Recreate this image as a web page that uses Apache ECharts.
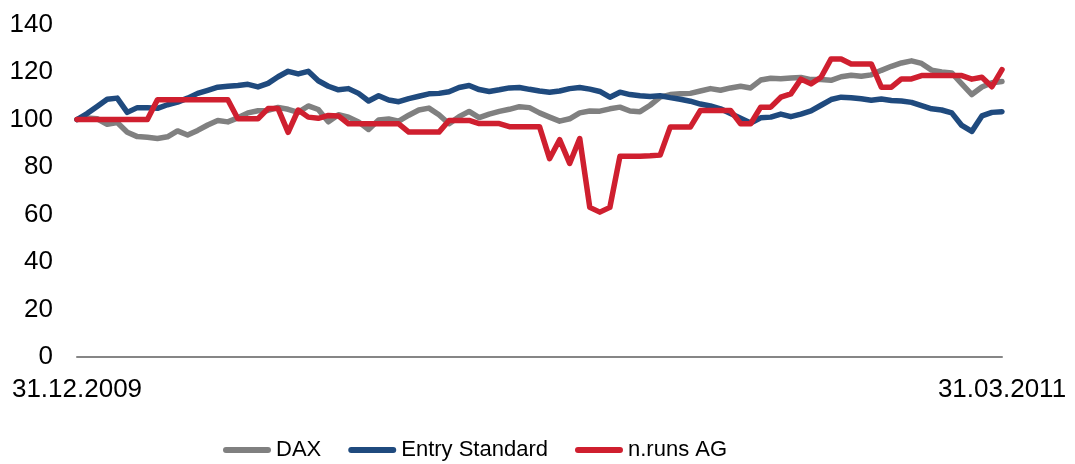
<!DOCTYPE html>
<html>
<head>
<meta charset="utf-8">
<script src="https://cdn.jsdelivr.net/npm/echarts@6/dist/echarts.min.js"></script>
<style>
  html, body { margin: 0; padding: 0; background: #ffffff; }
  #chart { width: 1075px; height: 464px; }
</style>
</head>
<body>
<div id="chart"></div>
<script>
// Tick labels on the x axis (first and last day of the period)
const xTickLabels = ['31.12.2009', '31.03.2011'];
const yTicks = [0, 20, 40, 60, 80, 100, 120, 140];

const seriesNames = ['DAX', 'Entry Standard', 'n.runs AG'];

// Values, roughly every 5 days
const dax = [
  100, 100.6, 100.3, 98, 98.7, 94.6, 92.8, 92.5, 92, 92.7,
  95.2, 93.5, 95.4, 97.7, 99.6, 99, 100.7, 102.8, 103.7, 103.8,
  105.1, 104.3, 103, 105.7, 104.2, 99, 102, 101, 99, 95.8,
  99.8, 100.2, 99.3, 101.8, 104, 104.8, 102, 98.2, 101.2, 103.4,
  100.8, 102.3, 103.4, 104.3, 105.4, 105, 102.8, 101, 99.3, 100.3,
  102.8, 103.6, 103.5, 104.5, 105.2, 103.6, 103.3, 106, 109.4, 110.5,
  110.8, 111, 112, 113, 112.3, 113.3, 114, 113.3, 116.6, 117.4,
  117.2, 117.5, 117.7, 116.8, 116.8, 116.5, 118, 118.6, 118.2, 118.8,
  120.7, 122.4, 123.8, 124.7, 123.6, 120.8, 120, 119.6, 115, 110.5,
  113.7, 115.5, 116
];

const entryStandard = [
  100, 102.5, 105.5, 108.5, 109, 103, 105, 105, 104.7, 106.2,
  107.3, 109, 111, 112.3, 113.6, 114, 114.3, 114.8, 113.7, 115.2,
  118, 120.3, 119.2, 120.3, 116.3, 114, 112.5, 113, 111, 107.8,
  110, 108.2, 107.5, 108.8, 109.8, 110.8, 111, 111.7, 113.5, 114.3,
  112.6, 111.8, 112.5, 113.3, 113.5, 112.7, 112, 111.5, 112, 113,
  113.5, 112.8, 111.8, 109.4, 111.5, 110.5, 110, 109.7, 110, 109.2,
  108.5, 107.7, 106.5, 105.7, 104.5, 102.5, 100.5, 98.5, 100.7, 101,
  102.3, 101.2, 102.3, 103.6, 106, 108.4, 109.4, 109.2, 108.7, 108.1,
  108.6, 108, 107.8, 107.2, 105.8, 104.5, 104, 102.8, 97.5, 95,
  101.5, 103, 103.3
];

const nRuns = [
  100, 100, 100, 100, 100, 100, 100, 100, 108.3, 108.3,
  108.3, 108.3, 108.3, 108.3, 108.3, 108.3, 100.3, 100.3, 100.3, 104.6,
  104.6, 94.6, 104, 101, 100.5, 101.7, 101.5, 98.2, 98.2, 98.2,
  98.2, 98.2, 98.2, 94.7, 94.7, 94.7, 94.7, 99.6, 99.6, 99.6,
  98.3, 98.3, 98.3, 97, 97, 97, 97, 83.5, 91.5, 81.5,
  92, 63, 61, 63, 84.5, 84.5, 84.5, 84.7, 85, 96.8,
  96.8, 96.8, 103.8, 103.8, 103.8, 103.8, 98.2, 98.2, 105.2, 105.2,
  109.4, 110.8, 117, 115, 117.8, 125.5, 125.5, 123.4, 123.4, 123.4,
  113.6, 113.6, 117.1, 117.1, 118.5, 118.5, 118.5, 118.5, 118.5, 117,
  117.8, 113.8, 121
];

const seriesColors = ['#808080', '#1f4a7e', '#cf1f2f'];

// Category labels: dates spread evenly over the period
function parseDE(s) { const p = s.split('.'); return new Date(Date.UTC(+p[2], +p[1] - 1, +p[0])); }
function fmtDE(d) {
  const dd = String(d.getUTCDate()).padStart(2, '0');
  const mm = String(d.getUTCMonth() + 1).padStart(2, '0');
  return dd + '.' + mm + '.' + d.getUTCFullYear();
}
const n = dax.length;
const t0 = parseDE(xTickLabels[0]).getTime();
const t1 = parseDE(xTickLabels[1]).getTime();
const dayMs = 86400000;
const totalDays = Math.round((t1 - t0) / dayMs);
const categories = [];
for (let i = 0; i < n; i++) {
  categories.push(fmtDE(new Date(t0 + Math.round(i * totalDays / (n - 1)) * dayMs)));
}

const FONT = '"Liberation Sans", Arial, Helvetica, sans-serif';
const chart = echarts.init(document.getElementById('chart'), null, { renderer: 'canvas' });

const values = [dax, entryStandard, nRuns];
chart.setOption({
  animation: false,
  backgroundColor: '#ffffff',
  grid: { left: 77, right: 73, top: 24.5, bottom: 107, containLabel: false },
  legend: {
    data: seriesNames,
    left: 218,
    top: 434,
    itemWidth: 48,
    itemHeight: 6,
    itemGap: 27,
    icon: 'path://M3,0 L45,0 A3,3 0 0 1 45,6 L3,6 A3,3 0 0 1 3,0 Z',
    textStyle: { fontFamily: FONT, fontSize: 22, color: '#000000' }
  },
  xAxis: {
    type: 'category',
    data: categories,
    boundaryGap: false,
    axisLine: { show: true, lineStyle: { color: '#868686', width: 2 } },
    axisTick: { show: false },
    splitLine: { show: false },
    axisLabel: {
      interval: function (idx) { return idx === 0 || idx === n - 1; },
      formatter: function (v, idx) { return idx === 0 ? xTickLabels[0] : (idx === n - 1 ? xTickLabels[1] : ''); },
      fontFamily: FONT, fontSize: 26, color: '#000000', margin: 20,
      showMinLabel: true, showMaxLabel: true
    }
  },
  yAxis: {
    type: 'value',
    min: yTicks[0],
    max: yTicks[yTicks.length - 1],
    interval: yTicks[1] - yTicks[0],
    axisLine: { show: false },
    axisTick: { show: false },
    splitLine: { show: false },
    axisLabel: { fontFamily: FONT, fontSize: 26, color: '#000000', margin: 24 }
  },
  series: seriesNames.map(function (name, k) {
    return {
      name: name,
      type: 'line',
      data: values[k],
      symbol: 'none',
      smooth: false,
      color: seriesColors[k],
      lineStyle: { color: seriesColors[k], width: 5.5, join: 'round', cap: 'round' },
      z: 2 + k
    };
  })
});
</script>
</body>
</html>
